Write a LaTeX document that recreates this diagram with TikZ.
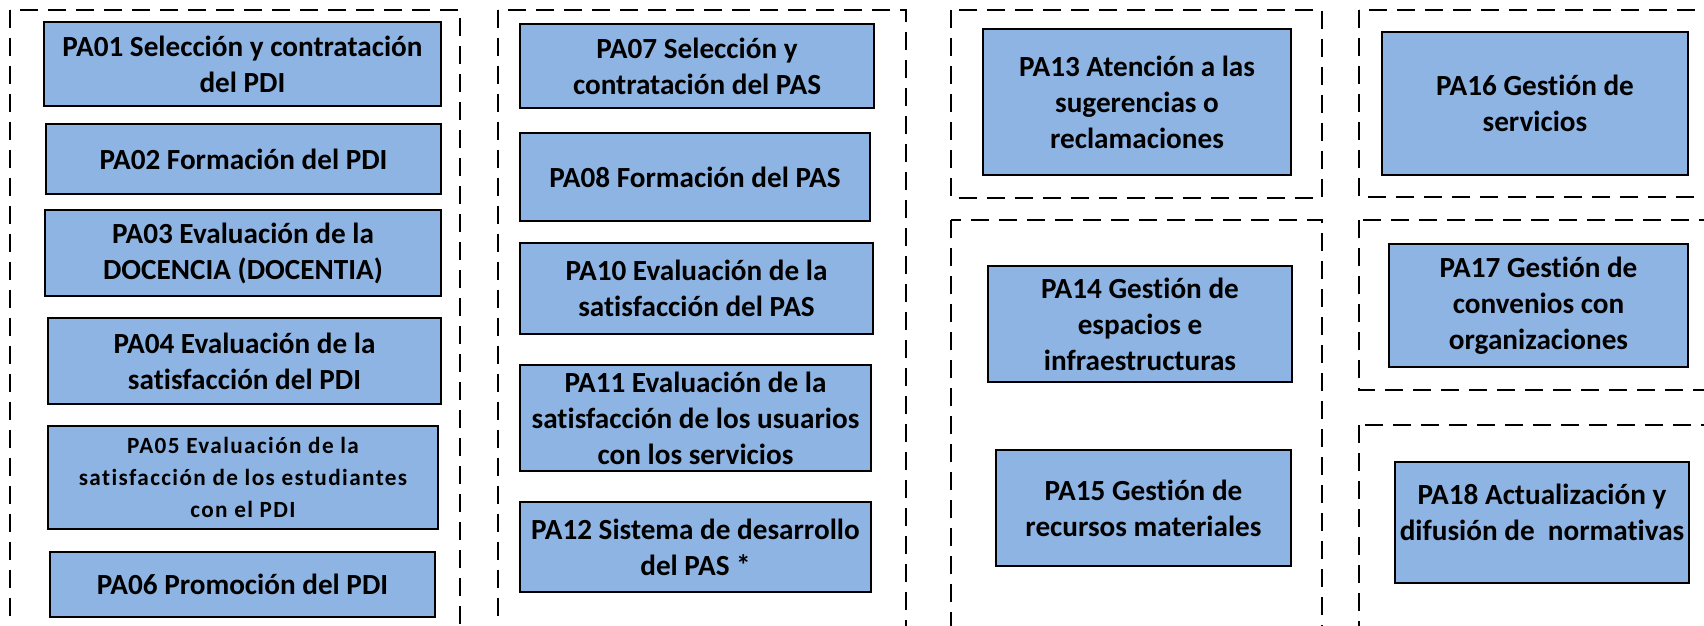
\documentclass[tikz,border=0pt]{standalone}
\usepackage{fontspec}
\setmainfont{Carlito}[Ligatures=NoCommon]
\newfontfamily\midfont{Carlito}[LetterSpace=6, Ligatures=NoCommon]
\usepackage{tikz}
\definecolor{boxblue}{HTML}{8EB4E3}
\tikzstyle{pabox} = [draw=black, line width=1pt, fill=boxblue, align=center, inner sep=0pt,
	font=\bfseries\fontsize{14.6}{18}\selectfont]
\tikzstyle{group} = [draw=black, line width=1pt, dash pattern=on 9pt off 5pt]

\begin{document}
\begin{tikzpicture}[x=0.5pt, y=-0.5pt]
	\useasboundingbox (0,0) rectangle (1704,626);
	\clip (0,0) rectangle (1704,626);

	% dashed groups
	\draw[group] (10,10) rectangle (460,680);
	\draw[group] (498,10) rectangle (906,680);
	\draw[group] (951,10) rectangle (1322,198);
	\draw[group] (951,220) rectangle (1322,680);
	\draw[group] (1359,10) rectangle (1760,197);
	\draw[group] (1359,220) rectangle (1760,390);
	\draw[group] (1359,425) rectangle (1760,680);

	% PDI
	\node[pabox, minimum width=198.5pt, minimum height=42pt] (pa01) at (242.5,64) {PA01 Selección y contratación\\del PDI};
	\node[pabox, minimum width=197.5pt, minimum height=35pt] (pa02) at (243.5,159) {PA02 Formación del PDI};
	\node[pabox, minimum width=198pt, minimum height=43pt] (pa03) at (243,253) {PA03 Evaluación de la\\DOCENCIA (DOCENTIA)};
	\node[pabox, minimum width=196.5pt, minimum height=43pt] (pa04) at (244.5,361) {PA04 Evaluación de la\\satisfacción del PDI};
	\node[pabox, minimum width=195pt, minimum height=51.5pt, font=\midfont\bfseries\fontsize{11.6}{16}\selectfont] (pa05) at (243,477.5) {PA05 Evaluación de la\\satisfacción de los estudiantes\\con el PDI};
	\node[pabox, minimum width=192.5pt, minimum height=32.5pt] (pa06) at (242.5,584.5) {PA06 Promoción del PDI};

	% PAS
	\node[pabox, minimum width=177pt, minimum height=42pt] (pa07) at (697,66) {PA07 Selección y\\contratación del PAS};
	\node[pabox, minimum width=175pt, minimum height=44pt] (pa08) at (695,177) {PA08 Formación del PAS};
	\node[pabox, minimum width=176.5pt, minimum height=45.5pt] (pa10) at (696.5,288.5) {PA10 Evaluación de la\\satisfacción del PAS};
	\node[pabox, minimum width=175.5pt, minimum height=53pt] (pa11) at (695.5,418) {PA11 Evaluación de la\\satisfacción de los usuarios\\con los servicios};
	\node[pabox, minimum width=175.5pt, minimum height=45pt] (pa12) at (695.5,547) {PA12 Sistema de desarrollo\\del PAS *};

	% recursos
	\node[pabox, minimum width=154pt, minimum height=73pt] (pa13) at (1137,102) {PA13 Atención a las\\sugerencias o\\reclamaciones};
	\node[pabox, minimum width=152pt, minimum height=58pt] (pa14) at (1140,324) {PA14 Gestión de\\espacios e\\infraestructuras};
	\node[pabox, minimum width=147.5pt, minimum height=58pt] (pa15) at (1143.5,508) {PA15 Gestión de\\recursos materiales};

	% servicios y normativa
	\node[pabox, minimum width=153pt, minimum height=71.5pt] (pa16) at (1535,103.5) {PA16 Gestión de\\servicios};
	\node[pabox, minimum width=149.5pt, minimum height=61.5pt] (pa17) at (1538.5,305.5) {PA17 Gestión de\\convenios con\\organizaciones};
	\node[pabox, minimum width=147pt, minimum height=60.5pt] (pa18) at (1542,522.5) {PA18 Actualización y\\difusión de~~normativas\\[-8pt]\mbox{}};

\end{tikzpicture}
\end{document}
